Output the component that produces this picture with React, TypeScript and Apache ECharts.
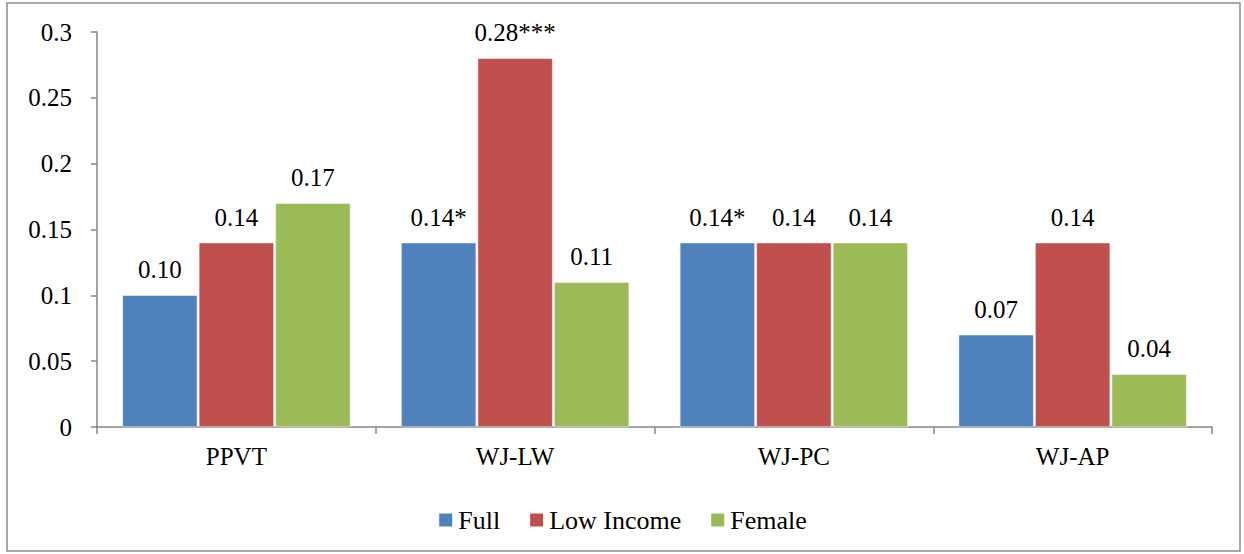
import React, { useEffect, useRef } from "react";
import * as echarts from "echarts";

// Effect sizes by outcome measure and sample
const categories = ["PPVT", "WJ-LW", "WJ-PC", "WJ-AP"];
const seriesNames = ["Full", "Low Income", "Female"];
const fullValues = [0.1, 0.14, 0.14, 0.07];
const lowIncomeValues = [0.14, 0.28, 0.14, 0.14];
const femaleValues = [0.17, 0.11, 0.14, 0.04];
// Printed labels, with significance stars
const fullLabels = ["0.10", "0.14*", "0.14*", "0.07"];
const lowIncomeLabels = ["0.14", "0.28***", "0.14", "0.14"];
const femaleLabels = ["0.17", "0.11", "0.14", "0.04"];
const colors = ["#4F81BD", "#C0504D", "#9BBB59"];

const FONT = "Liberation Serif";
const AXIS_GRAY = "#868686";

export default function App() {
  const ref = useRef<HTMLDivElement>(null);

  useEffect(() => {
    if (!ref.current) return;
    const chart = echarts.init(ref.current, null, { renderer: "svg" });

    const values = [fullValues, lowIncomeValues, femaleValues];
    const labels = [fullLabels, lowIncomeLabels, femaleLabels];

    chart.setOption({
      animation: false,
      backgroundColor: "#ffffff",
      textStyle: { fontFamily: FONT },
      graphic: [
        {
          type: "rect",
          shape: { x: 7, y: 3, width: 1233, height: 548 },
          style: { fill: "none", stroke: "#8c8c8c", lineWidth: 1.5 },
          silent: true,
        },
      ],
      grid: { left: 97, right: 32, top: 32, bottom: 127 },
      legend: {
        data: seriesNames,
        left: "center",
        top: 502,
        itemWidth: 15,
        itemHeight: 15,
        itemGap: 28,
        icon: "rect",
        textStyle: { fontFamily: FONT, fontSize: 26, color: "#000" },
      },
      xAxis: {
        type: "category",
        data: categories,
        axisLine: { lineStyle: { color: AXIS_GRAY, width: 1.5 } },
        axisTick: { show: true, length: 7, lineStyle: { color: AXIS_GRAY, width: 1.5 } },
        axisLabel: { fontFamily: FONT, fontSize: 25, color: "#000", margin: 17 },
      },
      yAxis: {
        type: "value",
        min: 0,
        max: 0.3,
        interval: 0.05,
        splitLine: { show: false },
        axisLine: { show: true, lineStyle: { color: AXIS_GRAY, width: 1.5 } },
        axisTick: { show: true, length: 6, lineStyle: { color: AXIS_GRAY, width: 1.5 } },
        axisLabel: { fontFamily: FONT, fontSize: 25, color: "#000", margin: 25 },
      },
      series: seriesNames.map((name, i) => ({
        name,
        type: "bar",
        barWidth: 75,
        barGap: "2%",
        itemStyle: { color: colors[i], borderColor: "#ffffff", borderWidth: 0.5 },
        label: {
          show: true,
          position: "top",
          distance: 13,
          fontFamily: FONT,
          fontSize: 25,
          color: "#000",
          formatter: (p: any) => labels[i][p.dataIndex],
        },
        data: values[i],
      })),
    });

    return () => chart.dispose();
  }, []);

  return (
    <div
      ref={ref}
      style={{ position: "fixed", left: 0, top: 0, width: 1244, height: 554, background: "#fff" }}
    />
  );
}
